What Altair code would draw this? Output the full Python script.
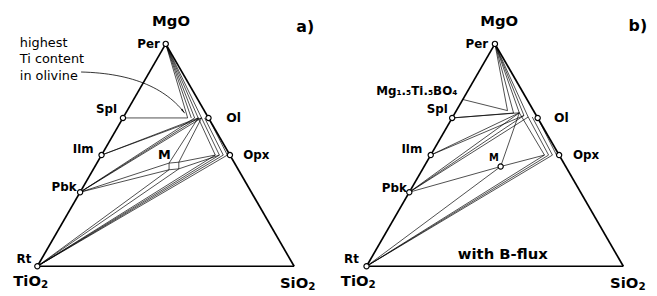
import math
import altair as alt
import pandas as pd

# ---------------- data: phase compositions (mole fractions MgO, SiO2; TiO2 = rest) ----
names_a = ["Per", "Spl", "Ilm", "Pbk", "Rt", "Ol", "Opx", "SiO2",
           "O1", "O2", "O3", "O4", "O5", "O6",
           "Px1", "Px2", "Px3", "Px4",
           "Mtl", "Mtr", "Mbr", "Mbl"]
mgo_a = [1.0, 0.667, 0.5, 0.333, 0.0, 0.667, 0.5, 0.0,
         0.667, 0.667, 0.667, 0.667, 0.667, 0.667,
         0.5, 0.5, 0.5, 0.5,
         0.464, 0.468, 0.438, 0.434]
sio2_a = [0.0, 0.0, 0.0, 0.0, 0.0, 0.333, 0.5, 1.0,
          0.252, 0.266, 0.279, 0.293, 0.306, 0.318,
          0.443, 0.459, 0.474, 0.490,
          0.281, 0.317, 0.332, 0.296]
ties_a = [("Per", "O1"), ("Per", "O2"), ("Per", "O3"), ("Per", "O4"), ("Per", "O5"),
          ("Spl", "O1"),
          ("Ilm", "O4"), ("Ilm", "O5"),
          ("Pbk", "O3"), ("Pbk", "O4"), ("Pbk", "O5"),
          ("O4", "Mtl"), ("O5", "Mtr"),
          ("O4", "Px1"), ("O5", "Px2"), ("O6", "Px3"), ("Ol", "Px4"),
          ("Mtl", "Mtr"), ("Mtr", "Mbr"), ("Mbr", "Mbl"), ("Mbl", "Mtl"),
          ("Pbk", "Mtl"), ("Pbk", "Mbl"),
          ("Mtr", "Px1"), ("Mbr", "Px2"),
          ("Rt", "Mbl"), ("Rt", "Mbr"),
          ("Rt", "Px1"), ("Rt", "Px2"), ("Rt", "Px3"), ("Rt", "Px4")]
circles_a = ["Per", "Spl", "Ilm", "Pbk", "Rt", "Ol", "Opx"]

names_b = ["Per", "Spl", "Ilm", "Pbk", "Rt", "Ol", "Opx", "SiO2",
           "Bor", "B1", "B2", "Cb", "B4", "B5", "B6",
           "Px1", "Px2", "Px3", "Px4", "M"]
mgo_b = [1.0, 0.667, 0.5, 0.333, 0.0, 0.667, 0.5, 0.0,
         0.75, 0.700, 0.689, 0.690, 0.678, 0.671, 0.671,
         0.5, 0.5, 0.5, 0.5, 0.4485]
sio2_b = [0.0, 0.0, 0.0, 0.0, 0.0, 0.333, 0.5, 1.0,
          0.0, 0.199, 0.228, 0.250, 0.274, 0.294, 0.310,
          0.443, 0.459, 0.474, 0.490, 0.298]
ties_b = [("Bor", "B1"),
          ("Per", "B1"), ("Per", "B2"), ("Per", "Cb"), ("Per", "B4"), ("Per", "B5"),
          ("Spl", "B2"), ("Spl", "Cb"),
          ("Ilm", "Cb"), ("Ilm", "B4"),
          ("Pbk", "Cb"), ("Pbk", "B4"), ("Pbk", "B5"),
          ("Cb", "M"), ("Cb", "Px1"), ("B5", "Px2"), ("B6", "Px3"), ("Ol", "Px4"),
          ("Pbk", "M"), ("M", "Px1"),
          ("Rt", "M"), ("Rt", "Px1"), ("Rt", "Px2"), ("Rt", "Px3")]
circles_b = ["Per", "Spl", "Ilm", "Pbk", "Rt", "Ol", "Opx", "M"]

edges = [("Rt", "Per"), ("Per", "SiO2"), ("Rt", "SiO2")]

# ---------------- labels: (anchor point, text, align, dx, dy, size) ----------------
labels_a = [("Per", "Per", "right", -6, 0, 12), ("Spl", "Spl", "right", -6, -8.5, 12),
            ("Ilm", "Ilm", "right", -8, -6, 12), ("Pbk", "Pbk", "right", -3.5, -5, 12),
            ("Rt", "Rt", "right", -6, -7, 12), ("Ol", "Ol", "left", 18, 0, 12.5),
            ("Opx", "Opx", "left", 13.4, 0, 12), ("Mtl", "M", "center", -4.7, -8, 13),
            ("Per", "MgO", "center", 5.4, -22.7, 15),
            ("Rt", "TiO", "left", -24.4, 15, 15), ("Rt", "2", "left", 3.6, 19.5, 10.5),
            ("SiO2", "SiO", "left", -14.4, 16.5, 15), ("SiO2", "2", "left", 14.4, 21, 10.5)]
labels_b = [("Per", "Per", "right", -7, 0, 12), ("Bor", "Mg₁.₅Ti.₅BO₄", "right", -5.5, -9, 12),
            ("Spl", "Spl", "right", -4.5, -8.5, 12), ("Ilm", "Ilm", "right", -8.6, -6, 12),
            ("Pbk", "Pbk", "right", -2.5, -4.5, 12), ("Rt", "Rt", "right", -7.7, -7, 12),
            ("M", "M", "center", -6.7, -8.7, 10), ("Ol", "Ol", "left", 16.5, 0, 12.5),
            ("Opx", "Opx", "left", 14, 0, 12), ("Per", "MgO", "center", 4.3, -22.7, 15),
            ("Rt", "TiO", "left", -26, 15, 15), ("Rt", "2", "left", 2, 19.5, 10.5),
            ("SiO2", "SiO", "left", -13.4, 16.5, 15), ("SiO2", "2", "left", 15.4, 21, 10.5)]

FONT = "DejaVu Sans"
H = math.sqrt(3) / 2
YDOM = [-0.108846, 0.998846]


def xy(m, s):
    return s + m / 2.0, m * H


def panel(names, mgo, sio2, ties, circles, labels, xdom, width, extras):
    pts = {n: xy(m, s) for n, m, s in zip(names, mgo, sio2)}
    xs = alt.Scale(domain=xdom, nice=False, zero=False)
    ys = alt.Scale(domain=YDOM, nice=False, zero=False)

    def seg_df(pairs):
        return pd.DataFrame([{"x": pts[a][0], "y": pts[a][1],
                              "x2": pts[b][0], "y2": pts[b][1]} for a, b in pairs])

    def enc_xy():
        return dict(x=alt.X("x:Q", scale=xs, axis=None), y=alt.Y("y:Q", scale=ys, axis=None))

    layers = []
    layers.append(alt.Chart(seg_df(ties)).mark_rule(color="black", strokeWidth=0.7)
                  .encode(**enc_xy(), x2="x2:Q", y2="y2:Q"))
    layers.append(alt.Chart(seg_df(edges)).mark_rule(color="black", strokeWidth=1.7)
                  .encode(**enc_xy(), x2="x2:Q", y2="y2:Q"))
    for e in extras.get("pre", []):
        layers.append(e(xs, ys, pts))
    cdf = pd.DataFrame([{"x": pts[n][0], "y": pts[n][1]} for n in circles])
    layers.append(alt.Chart(cdf).mark_point(shape="circle", filled=True, fill="white",
                                            stroke="black", strokeWidth=1.2, size=28, opacity=1)
                  .encode(**enc_xy()))
    for anchor, text, align, dx, dy, size in labels:
        df = pd.DataFrame([{"x": pts[anchor][0], "y": pts[anchor][1], "t": text}])
        layers.append(alt.Chart(df).mark_text(align=align, baseline="middle", dx=dx, dy=dy,
                                              font=FONT, fontWeight="bold", fontSize=size,
                                              color="black")
                      .encode(**enc_xy(), text="t:N"))
    for e in extras.get("post", []):
        layers.append(e(xs, ys, pts))
    return alt.layer(*layers).properties(width=width, height=288)


# ---- annotation pieces ----
def arrow_a(xs, ys, pts):
    # quadratic curve from the note to the highest-Ti olivine
    p0 = (0.1704, 0.7565)
    p1 = (0.4540, 0.7498)
    p2 = (0.5723, 0.5985)
    rows = []
    for i in range(31):
        t = i / 30
        x = (1 - t) ** 2 * p0[0] + 2 * (1 - t) * t * p1[0] + t ** 2 * p2[0]
        y = (1 - t) ** 2 * p0[1] + 2 * (1 - t) * t * p1[1] + t ** 2 * p2[1]
        rows.append({"x": x, "y": y, "i": i})
    line = alt.Chart(pd.DataFrame(rows)).mark_line(color="black", strokeWidth=0.8).encode(
        x=alt.X("x:Q", scale=xs, axis=None), y=alt.Y("y:Q", scale=ys, axis=None), order="i:Q")
    ang = math.degrees(math.atan2(p1[1] - p2[1], p2[0] - p1[0])) + 90
    head = alt.Chart(pd.DataFrame([{"x": p2[0] - 0.006, "y": p2[1] + 0.007}])).mark_point(
        shape="wedge", filled=True, color="black", size=45, angle=ang, opacity=1).encode(
        x=alt.X("x:Q", scale=xs, axis=None), y=alt.Y("y:Q", scale=ys, axis=None))
    return alt.layer(line, head)


def note_a(xs, ys, pts):
    return alt.Chart(pd.DataFrame({"t": ["highest\nTi content\nin olivine"]})).mark_text(
        align="left", baseline="alphabetic", lineBreak="\n", lineHeight=16.7, font=FONT,
        fontSize=13, color="black").encode(x=alt.value(12), y=alt.value(37.7), text="t:N")


def tag(text, x, y, size, weight="bold"):
    def f(xs, ys, pts):
        return alt.Chart(pd.DataFrame({"t": [text]})).mark_text(
            align="center", baseline="middle", font=FONT, fontWeight=weight, fontSize=size,
            color="black").encode(x=alt.value(x), y=alt.value(y), text="t:N")
    return f


pa = panel(names_a, mgo_a, sio2_a, ties_a, circles_a, labels_a,
           [-0.11423, 1.16654], 333,
           {"pre": [arrow_a], "post": [note_a, tag("a)", 301, 17, 16)]})
pb = panel(names_b, mgo_b, sio2_b, ties_b, circles_b, labels_b,
           [-0.11538, 1.1], 316,
           {"post": [tag("b)", 304.7, 16, 16), tag("with B-flux", 168, 247, 15)]})

chart = alt.hconcat(pa, pb, spacing=0, bounds="flush").properties(
    padding=0).configure_view(stroke=None)

chart.save("out.html", embed_options={"renderer": "svg", "actions": False})
